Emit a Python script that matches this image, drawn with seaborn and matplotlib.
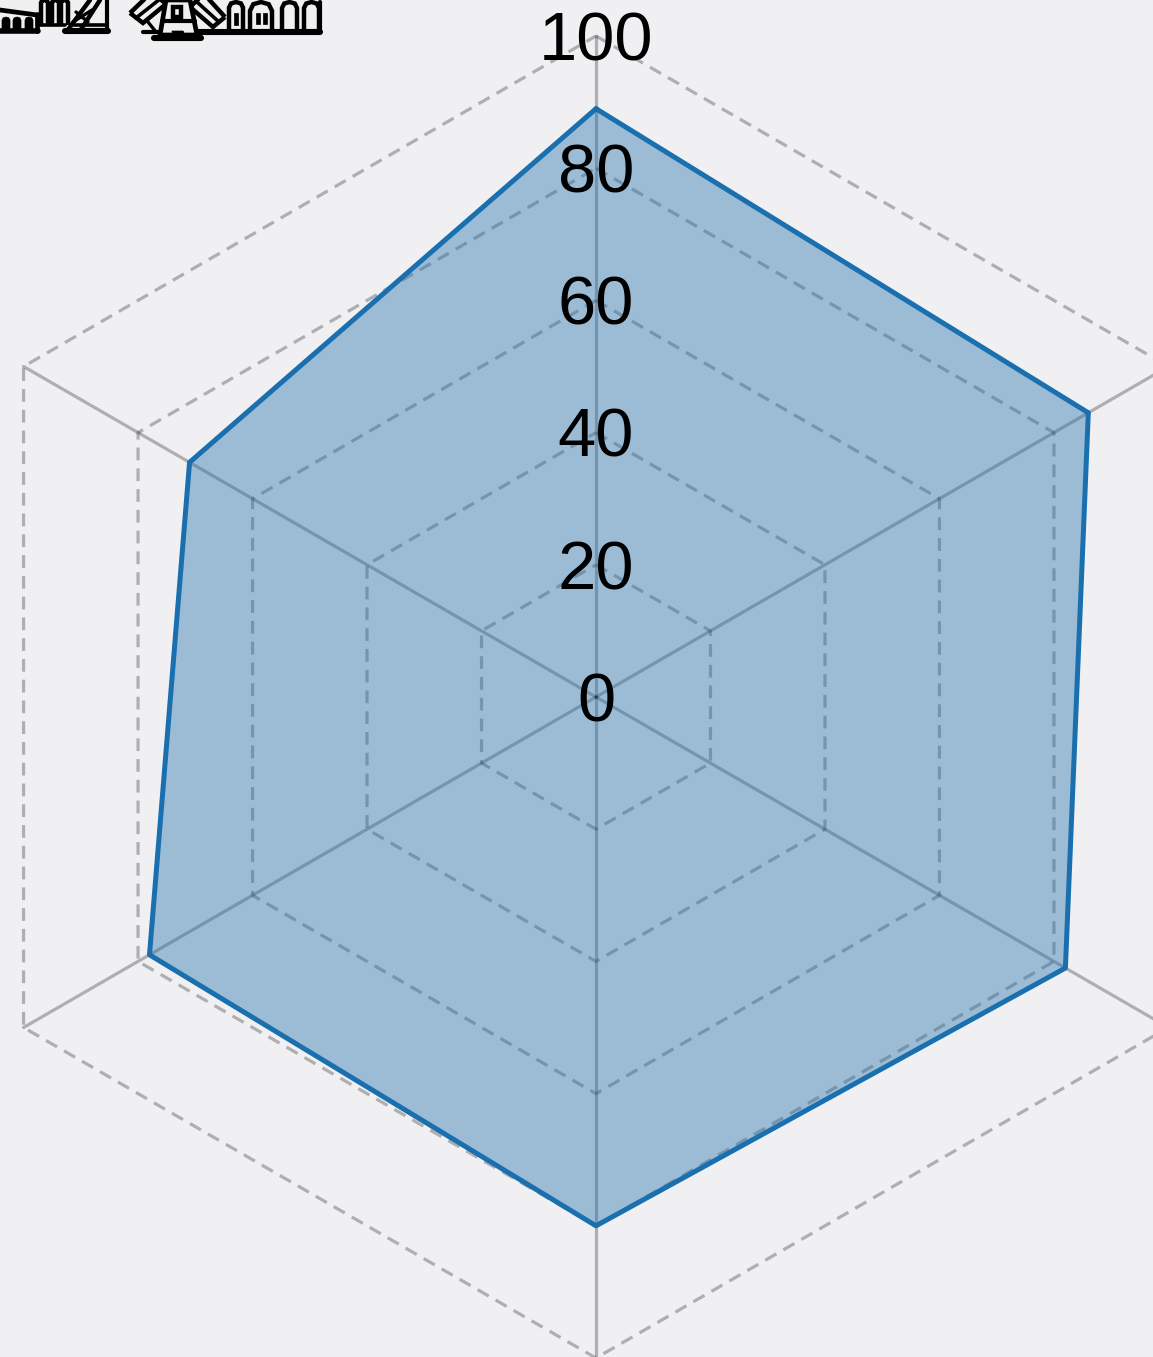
import numpy as np
import pandas as pd
import seaborn as sns
import matplotlib.pyplot as plt
from matplotlib.patches import Rectangle, Polygon, Wedge
from matplotlib.transforms import Affine2D

# values, clockwise from the top
spokes = [0, 1, 2, 3, 4, 5]
scores = [89, 86, 82, 80, 78, 71]
ring_levels = [20, 40, 60, 80, 100]
tick_labels = [0, 20, 40, 60, 80, 100]

W, H = 1153, 1357
cx, cy, R = 596, 697, 661
BG = '#f0f0f3'

sns.set_theme(style='white')
plt.rcParams['font.family'] = ['Liberation Sans', 'DejaVu Sans']

fig = plt.figure(figsize=(W / 100, H / 100), dpi=100, facecolor=BG)
ax = fig.add_axes([(cx - R) / W, (H - cy - R) / H, 2 * R / W, 2 * R / H], projection='polar')
ax.set_theta_zero_location('N')
ax.set_theta_direction(-1)
ax.set_facecolor(BG)
ax.axis('off')

angles = np.deg2rad(np.array(spokes) * 60.0)

# rings, see-through so crossings come out darker
for level in ring_levels:
    ring = pd.DataFrame({'theta': np.append(angles, angles[0]), 'r': level})
    sns.lineplot(data=ring, x='theta', y='r', sort=False, estimator=None, ax=ax,
                 color='black', alpha=0.27, linewidth=2.3, linestyle=(0, (4.0, 2.5)),
                 clip_on=False, zorder=1)

# spokes
for a in angles:
    spoke = pd.DataFrame({'theta': [a, a], 'r': [0, 100]})
    sns.lineplot(data=spoke, x='theta', y='r', sort=False, estimator=None, ax=ax,
                 color='black', alpha=0.27, linewidth=2.3, clip_on=False, zorder=1)

df = pd.DataFrame({'theta': np.append(angles, angles[0]), 'r': scores + scores[:1]})
ax.fill(df['theta'], df['r'], color='#1f6fab', alpha=0.4, linewidth=0, zorder=2)
sns.lineplot(data=df, x='theta', y='r', sort=False, estimator=None, ax=ax,
             color='#1a6fae', linewidth=3.6, zorder=4)

ax.set_ylim(0, 100)
ax.set_xlabel('')
ax.set_ylabel('')

for t in tick_labels:
    ax.annotate(str(t), xy=(0, t), xytext=(0, -4.5), textcoords='offset points',
                ha='center', va='center', fontsize=49.5, color='black', zorder=5,
                annotation_clip=False)

# icon strip cut off at the top left, drawn in pixel coords
px = Affine2D().scale(1, -1).translate(0, H)
ink = dict(fill=False, edgecolor='black', linewidth=3.2, transform=px, clip_on=False, zorder=6)
solid = dict(facecolor='black', edgecolor='black', linewidth=0.5, transform=px, clip_on=False, zorder=6)


def arch(x, w, top, bottom, **style):
    xs = [x, x, x + w * 0.15, x + w * 0.5, x + w * 0.85, x + w, x + w]
    ys = [bottom, top + w * 0.4, top + w * 0.1, top, top + w * 0.1, top + w * 0.4, bottom]
    ax.add_patch(Polygon(list(zip(xs, ys)), closed=False, **(style or ink)))


def bar(x0, y0, x1, y1, lw=3.4):
    ax.plot([x0, x1], [y0, y1], color='black', lw=lw, transform=px, clip_on=False, zorder=6)


# left group: arcade and crane
bar(0, 31, 38, 31, 4)
bar(37, 31, 37, 14)
bar(0, 10, 37, 15)
for x in [2, 13, 25]:
    arch(x, 8, 17, 29, **solid)
for x in [41, 52, 61]:
    arch(x, 7, 0, 25, **ink)
bar(38, 25, 65, 25, 2.6)
bar(65, 31, 108, 31, 4.4)
bar(107, 31, 107, 0, 3)
bar(67, 31, 90, 0, 3.2)
bar(80, 31, 100, 0, 3.2)
bar(73, 22, 92, 10, 2.4)
bar(76, 12, 88, 22, 2.4)
bar(74, 25, 107, 25, 2.6)

# right group: windmill and arches
for blade in [[(130, 13), (143, 23), (166, 4), (152, -8)],
              [(225, 17), (213, 27), (190, 7), (204, -6)]]:
    ax.add_patch(Polygon(blade, **ink))
bar(136, 18, 160, -1, 2.6)
bar(219, 22, 197, 2, 2.6)
ax.add_patch(Polygon([(160, 35), (166, 0), (190, 0), (197, 35)], facecolor=BG, edgecolor='black',
                     linewidth=3.4, transform=px, clip_on=False, zorder=6))
bar(154, 38, 201, 38, 4.4)
bar(162, 21, 195, 21, 3)
ax.add_patch(Rectangle((173, 7), 8, 10, **ink))
ax.add_patch(Wedge((177.5, 31), 5.5, 0, 180, **solid))
ax.add_patch(Rectangle((172, 31), 11, 7, **solid))
bar(143, 32, 160, 32, 3)
bar(148, 22, 156, 32, 2.4)
bar(197, 32, 320, 32, 4.4)
for x, w in [(229, 14), (250, 22), (282, 15), (304, 15)]:
    arch(x, w, 2, 32, **ink)
ax.add_patch(Rectangle((234, 13), 3.5, 12, **solid))
ax.add_patch(Rectangle((256, 13), 3.5, 11, **solid))
ax.add_patch(Rectangle((263, 13), 3.5, 11, **solid))
bar(320, 2, 320, 32, 3)

ax.set_ylim(0, 100)
fig.savefig('out.png', dpi=100, facecolor=BG)
